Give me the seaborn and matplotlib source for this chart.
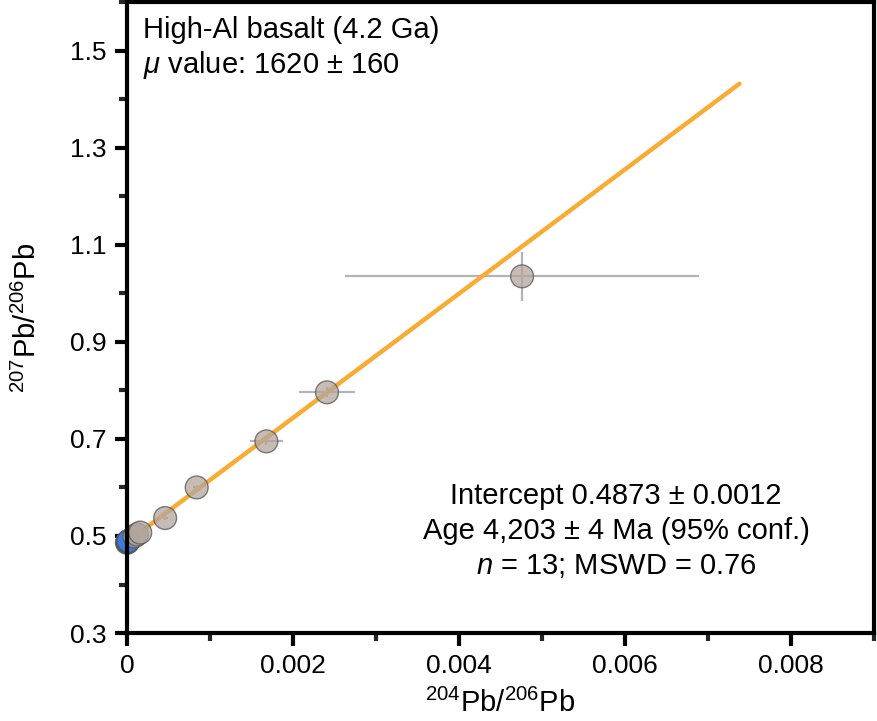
"""Pb-Pb isochron, high-Al basalt."""

import matplotlib.pyplot as plt
import numpy as np
import pandas as pd
import seaborn as sns

sns.set_theme(style="white", context="notebook")
plt.rcParams["font.family"] = ["Liberation Sans", "DejaVu Sans"]
plt.rcParams["text.color"] = "black"
plt.rcParams["axes.labelcolor"] = "black"
plt.rcParams["mathtext.fontset"] = "custom"
plt.rcParams["mathtext.rm"] = "Liberation Sans"
plt.rcParams["mathtext.it"] = "Liberation Sans:italic"

# 204Pb/206Pb, 207Pb/206Pb and 2-sigma errors (mineral fractions first)
pb204 = [0.0, 0.000005, 0.00001, 0.000015, 0.00002,
         0.00009, 0.00012, 0.00016, 0.00046, 0.00084, 0.00168, 0.00241, 0.00476]
pb207 = [0.486, 0.487, 0.488, 0.489, 0.490,
         0.499, 0.503, 0.507, 0.537, 0.600, 0.695, 0.796, 1.035]
pb204_err = [0.0, 0.0, 0.0, 0.0, 0.0,
             0.00001, 0.00001, 0.00002, 0.00003, 0.00005, 0.0002, 0.00034, 0.00213]
pb207_err = [0.0, 0.0, 0.0, 0.0, 0.0,
             0.002, 0.002, 0.003, 0.004, 0.005, 0.008, 0.01, 0.05]
group = ["mineral"] * 5 + ["whole"] * 8

fit_x = [0.0, 0.00738]
fit_y = [0.4873, 1.432]

df = pd.DataFrame({"x": pb204, "y": pb207, "xerr": pb204_err,
                   "yerr": pb207_err, "group": group})

fig = plt.figure(figsize=(8.78, 7.21), dpi=100)
ax = fig.add_axes([0.1446, 0.122, 0.8508, 0.875])

ax.errorbar(df["x"], df["y"], xerr=df["xerr"], yerr=df["yerr"], fmt="none",
            ecolor="#b4b4b4", elinewidth=1.6, capsize=0, zorder=1)
sns.lineplot(x=fit_x, y=fit_y, ax=ax, color="#f9ac33", lw=3.2, zorder=2)
sns.scatterplot(data=df, x="x", y="y", hue="group", ax=ax,
                palette={"whole": "#b3a69d", "mineral": "#3b7ce0"},
                s=270, alpha=0.75, edgecolor="#555555", linewidth=1.0,
                legend=False, zorder=3, clip_on=False)

ax.set_xlim(0, 0.009)
ax.set_ylim(0.3, 1.6)
ax.set_xticks(np.arange(0, 0.0081, 0.002))
ax.set_xticklabels(["0", "0.002", "0.004", "0.006", "0.008"])
ax.set_xticks(np.arange(0.001, 0.0091, 0.002), minor=True)
ax.set_yticks(np.arange(0.3, 1.51, 0.2))
ax.set_yticklabels(["0.3", "0.5", "0.7", "0.9", "1.1", "1.3", "1.5"])
ax.set_yticks(np.arange(0.4, 1.61, 0.2), minor=True)

for s in ax.spines.values():
    s.set_linewidth(3)
    s.set_color("black")
    s.set_zorder(4)
ax.tick_params(which="major", direction="out", length=9, width=3,
               labelsize=19, colors="black", pad=6, bottom=True, left=True)
ax.tick_params(which="minor", direction="out", length=6, width=3,
               bottom=True, left=True)

ax.set_xlabel(r"$^{204}$Pb/$^{206}$Pb", fontsize=21, labelpad=8)
ax.set_ylabel(r"$^{207}$Pb/$^{206}$Pb", fontsize=21, labelpad=20)

ax.text(0.021, 0.956, "High-Al basalt (4.2 Ga)", transform=ax.transAxes,
        fontsize=21, va="center", ha="left")
ax.text(0.021, 0.900, r"$\mu$ value: 1620 $\pm$ 160", transform=ax.transAxes,
        fontsize=21, va="center", ha="left")
ax.text(0.655, 0.162,
        "Intercept 0.4873 \u00b1 0.0012\nAge 4,203 \u00b1 4 Ma (95% conf.)\n"
        r"$n$ = 13; MSWD = 0.76",
        transform=ax.transAxes, fontsize=21, ha="center", va="center",
        linespacing=1.32)

fig.savefig("out.png", dpi=100)
